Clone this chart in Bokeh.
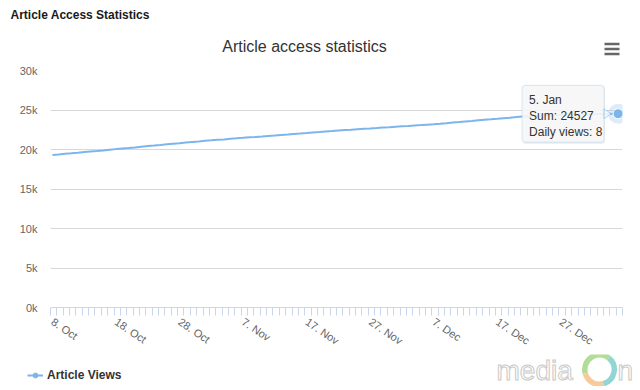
import numpy as np
from bokeh.plotting import figure
from bokeh.layouts import column
from bokeh.models import FixedTicker, Range1d, Label, BoxAnnotation, PolyAnnotation, Legend, LegendItem
from bokeh.core.properties import value
from bokeh.embed import file_html
from bokeh.resources import INLINE

# ---------------- data ----------------
start_sum = 19301
daily_views = [72, 81, 69, 77, 85, 64, 58, 79, 88, 74, 70, 66, 83, 91, 76, 68, 73, 80, 71, 65, 84, 78, 70, 77,
               60, 66, 55, 71, 58, 63, 67, 52, 61, 69, 57, 64, 59, 70, 56, 62, 65, 58, 63, 60, 64,
               55, 49, 58, 51, 47, 56, 60, 50, 52, 54, 48, 57, 53, 55, 55,
               66, 72, 75, 63, 70, 68, 74, 71, 65, 69, 73, 67, 70, 67,
               45, 38, 33, 30, 27, 22, 18, 25, 20, 15, 19, 21, 14, 22, 8]
x_tick_days = [0, 10, 20, 30, 40, 50, 60, 70, 80]
x_tick_labels = ["8. Oct", "18. Oct", "28. Oct", "7. Nov", "17. Nov", "27. Nov", "7. Dec", "17. Dec", "27. Dec"]
y_ticks = [0, 5000, 10000, 15000, 20000, 25000, 30000]
y_tick_labels = ["0k", "5k", "10k", "15k", "20k", "25k", "30k"]
tooltip_date = "5. Jan"
series_name = "Article Views"
page_title = "Article Access Statistics"
chart_title = "Article access statistics"

days = np.arange(len(daily_views) + 1)
cum = start_sum + np.concatenate([[0], np.cumsum(daily_views)])

FONT = "Liberation Sans"
LINE_COLOR = "#7cb5ec"
W = 636
TOP_H, MAIN_H, BOT_H = 62, 292, 32
BL, BR, BT, BB = 50, 14, 8, 42
x0, x1 = -0.3, 89.7
y0, y1 = 0, 30000


def strip(h):
    f = figure(width=W, height=h, output_backend="svg", toolbar_location=None,
               x_range=Range1d(0, W), y_range=Range1d(0, h), min_border=0,
               x_axis_location=None, y_axis_location=None, frame_align=False)
    f.grid.visible = False
    f.outline_line_color = None
    f.background_fill_color = "white"
    f.border_fill_color = "white"
    return f


# ---------------- top strip: page header, chart title, menu icon ----------------
top = strip(TOP_H)
top.text(x=[10], y=[TOP_H - 14], text=[page_title], text_baseline="middle",
         text_font=value(FONT), text_font_size="12px", text_font_style="bold", text_color="#1a1a1a")
top.text(x=[304], y=[TOP_H - 46], text=[chart_title], text_baseline="middle", text_align="center",
         text_font=value(FONT), text_font_size="16px", text_color="#333333")
top.rect(x=[611.5, 611.5, 611.5], y=[TOP_H - 43.5, TOP_H - 48.5, TOP_H - 53.5], width=15, height=2.4,
         fill_color="#666666", line_color=None)

# ---------------- main chart ----------------
p = figure(width=W, height=MAIN_H, output_backend="svg", toolbar_location=None,
           x_range=Range1d(x0, x1), y_range=Range1d(y0, y1), frame_align=False,
           min_border_left=BL, min_border_right=BR, min_border_top=BT, min_border_bottom=BB)
p.outline_line_color = None
p.background_fill_color = "white"
p.border_fill_color = "white"

p.yaxis.ticker = FixedTicker(ticks=y_ticks)
p.yaxis.major_label_overrides = {t: l for t, l in zip(y_ticks, y_tick_labels)}
p.yaxis.axis_line_color = None
p.yaxis.major_tick_line_color = None
p.yaxis.minor_tick_line_color = None
p.yaxis.major_label_text_color = "#666666"
p.yaxis.major_label_text_font = FONT
p.yaxis.major_label_text_font_size = "11px"
p.yaxis.major_label_standoff = 7
p.ygrid.ticker = FixedTicker(ticks=y_ticks)
p.ygrid.grid_line_color = "#d8d8d8"
p.xgrid.visible = False

p.xaxis.ticker = FixedTicker(ticks=x_tick_days, minor_ticks=[d - 0.3 for d in range(91)])
p.xaxis.major_label_overrides = {t: l for t, l in zip(x_tick_days, x_tick_labels)}
p.xaxis.axis_line_color = "#ccd6eb"
p.xaxis.major_tick_line_color = None
p.xaxis.minor_tick_line_color = "#ccd6eb"
p.xaxis.minor_tick_in = 0
p.xaxis.minor_tick_out = 8
p.xaxis.major_tick_in = 0
p.xaxis.major_tick_out = 8
p.xaxis.major_label_orientation = -0.6
p.xaxis.major_label_text_color = "#666666"
p.xaxis.major_label_text_font = FONT
p.xaxis.major_label_text_font_size = "11px"
p.xaxis.major_label_standoff = 5

p.line(days, cum, line_color=LINE_COLOR, line_width=2)
p.scatter([days[-1]], [cum[-1]], size=20, fill_color=LINE_COLOR, fill_alpha=0.25, line_color=None)
p.scatter([days[-1]], [cum[-1]], size=10, fill_color=LINE_COLOR, line_color="white", line_width=1)

# tooltip (pixel offsets from the last point converted to data units)
fw = W - BL - BR
fh = MAIN_H - BT - BB
sx = fw / (x1 - x0)
sy = fh / (y1 - y0)
xl, yl = days[-1], cum[-1]


def dx(px):
    return xl + px / sx


def dy(px):
    return yl + px / sy


p.add_layout(BoxAnnotation(left=dx(-95), right=dx(-13), top=dy(28), bottom=dy(-31),
                           fill_color="black", fill_alpha=0.06, line_color=None, border_radius=3,
                           level="overlay"))
p.add_layout(BoxAnnotation(left=dx(-96), right=dx(-14), top=dy(29), bottom=dy(-29),
                           fill_color="#f7f7f7", fill_alpha=0.9, line_color=LINE_COLOR, line_width=1,
                           border_radius=3, level="overlay"))
p.add_layout(PolyAnnotation(xs=[dx(-14), dx(-7), dx(-14)], ys=[dy(5), dy(0), dy(-5)],
                            fill_color="#f7f7f7", fill_alpha=0.9, line_color=LINE_COLOR, line_alpha=0.6,
                            level="overlay"))
for txt, off in [(tooltip_date, 14), ("Sum: %d" % yl, -2), ("Daily views: %d" % daily_views[-1], -18)]:
    p.add_layout(Label(x=xl, y=yl, x_offset=-89, y_offset=off, text=txt, text_baseline="middle",
                       text_font=FONT, text_font_size="12px", text_color="#333333", level="overlay"))

# ---------------- bottom strip: legend + watermark ----------------
bot = strip(BOT_H)
# legend sample renderers (their points lie outside the visible strip)
leg_line = bot.line([-50, -40], [-50, -50], line_color=LINE_COLOR, line_width=2)
leg_mark = bot.scatter([-50], [-50], size=8, fill_color=LINE_COLOR, line_color=LINE_COLOR)
bot.add_layout(Legend(items=[LegendItem(label=series_name, renderers=[leg_line, leg_mark])],
                      location=(27, 4), orientation="horizontal", padding=0, margin=0,
                      glyph_width=16, glyph_height=12, label_standoff=4,
                      label_text_font=FONT, label_text_font_size="12px", label_text_font_style="bold",
                      label_text_color="#333333", border_line_color=None, background_fill_alpha=0))

# watermark logo
wm_y = BOT_H - 370 + 354
bot.text(x=[496], y=[wm_y], text=["media"], text_baseline="middle",
         text_font=value(FONT), text_font_size="28px", text_color="white",
         text_outline_color="#c9c9c9")
bot.text(x=[617], y=[wm_y], text=["n"], text_baseline="middle",
         text_font=value(FONT), text_font_size="28px", text_color="white",
         text_outline_color="#c9c9c9")
ring_x, ring_y = 599, BOT_H - 369 + 354
for a0, a1, col in [(50, 195, "#a9d98b"), (-75, 50, "#86d0d0"), (195, 285, "#f6c48e")]:
    bot.annular_wedge(x=[ring_x], y=[ring_y], inner_radius=12, outer_radius=17.5,
                      inner_radius_units="screen", outer_radius_units="screen",
                      start_angle=np.radians(a0), end_angle=np.radians(a1),
                      fill_color=col, fill_alpha=0.9, line_color=None)

layout = column(top, p, bot, spacing=0)
open("out.html", "w").write(file_html(layout, INLINE))
